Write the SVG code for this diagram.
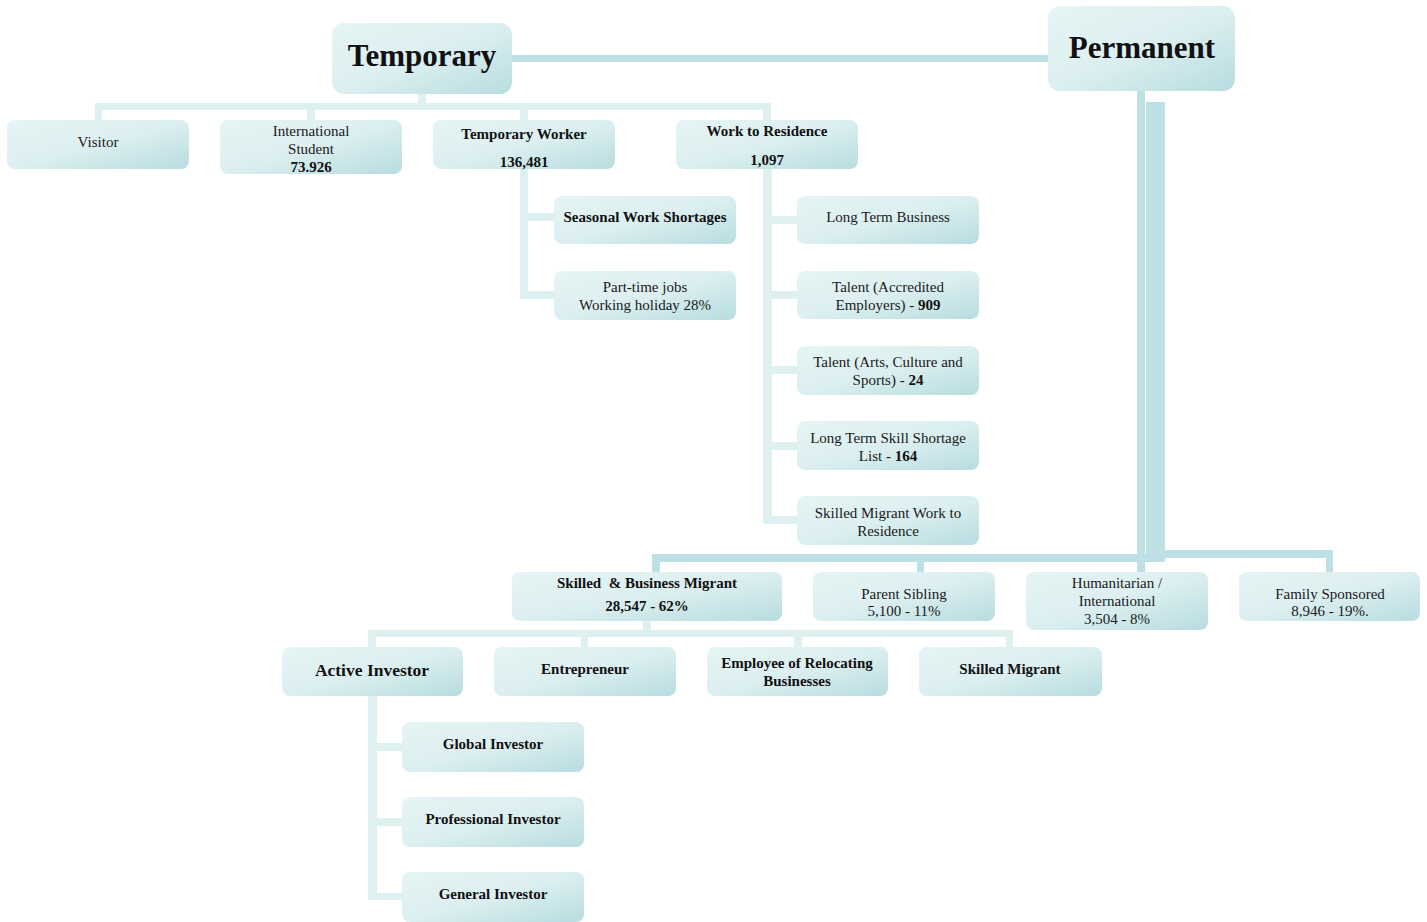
<svg xmlns="http://www.w3.org/2000/svg" width="1427" height="922" viewBox="0 0 1427 922">
<defs>
<linearGradient id="g" x1="0" y1="0" x2="1" y2="1">
<stop offset="0" stop-color="#e6f4f5"/>
<stop offset="0.5" stop-color="#dcefF0"/>
<stop offset="1" stop-color="#b7dce0"/>
</linearGradient>
<style>
.b{fill:url(#g);}
.t{font-family:"Liberation Serif","Times New Roman",serif;font-size:15px;fill:#1a1a1a;text-anchor:middle;}
.bd{font-weight:bold;fill:#111;}
.big{font-size:31px;font-weight:bold;fill:#111;}
.ai{font-size:17.5px;}
.cm{fill:#bce0e3;}
.cl{fill:#dff0f1;}
</style>
</defs>
<rect width="1427" height="922" fill="#ffffff"/>
<g id="connectors">
<rect class="cm" x="512" y="55" width="536" height="7"/>
<rect class="cl" x="418" y="94" width="8" height="10"/>
<rect class="cl" x="95" y="103" width="676" height="7"/>
<rect class="cl" x="95" y="103" width="7" height="17"/>
<rect class="cl" x="307" y="103" width="8" height="17"/>
<rect class="cl" x="520" y="103" width="8" height="17"/>
<rect class="cl" x="763" y="103" width="8" height="17"/>
<rect class="cl" x="520" y="169" width="8" height="129"/>
<rect class="cl" x="520" y="213" width="34" height="8"/>
<rect class="cl" x="520" y="291" width="34" height="8"/>
<rect class="cl" x="763" y="169" width="9" height="355"/>
<rect class="cl" x="763" y="216" width="34" height="8"/>
<rect class="cl" x="763" y="291" width="34" height="8"/>
<rect class="cl" x="763" y="366" width="34" height="8"/>
<rect class="cl" x="763" y="442" width="34" height="8"/>
<rect class="cl" x="763" y="516" width="34" height="8"/>
<rect class="cm" x="1137" y="91" width="8" height="481"/>
<rect class="cm" x="1146" y="102" width="19" height="458"/>
<rect class="cm" x="652" y="554" width="513" height="8"/>
<rect class="cm" x="652" y="554" width="8" height="18"/>
<rect class="cm" x="917" y="558" width="7" height="14"/>
<rect class="cm" x="1164" y="550" width="169" height="8"/>
<rect class="cm" x="1326" y="550" width="7" height="22"/>
<rect class="cl" x="643" y="621" width="8" height="12"/>
<rect class="cl" x="368" y="630" width="645" height="7"/>
<rect class="cl" x="368" y="630" width="8" height="17"/>
<rect class="cl" x="581" y="630" width="7" height="17"/>
<rect class="cl" x="794" y="630" width="8" height="17"/>
<rect class="cl" x="1006" y="630" width="7" height="17"/>
<rect class="cl" x="368" y="696" width="9" height="204"/>
<rect class="cl" x="368" y="743" width="34" height="8"/>
<rect class="cl" x="368" y="818" width="34" height="8"/>
<rect class="cl" x="368" y="893" width="34" height="7"/>
</g>
<g id="temporary"><rect class="b" x="332" y="23" width="180" height="71" rx="12"/><text class="t big" x="422" y="66">Temporary</text></g>
<g id="permanent"><rect class="b" x="1048" y="6" width="187" height="85" rx="12"/><text class="t big" x="1142" y="58">Permanent</text></g>
<g id="visitor"><rect class="b" x="7" y="120" width="182" height="49" rx="8"/><text class="t" x="98" y="147">Visitor</text></g>
<g id="intl-student"><rect class="b" x="220" y="120" width="182" height="54" rx="8"/><text class="t" x="311" y="136">International</text><text class="t" x="311" y="154">Student</text><text class="t bd" x="311" y="172">73.926</text></g>
<g id="temp-worker"><rect class="b" x="433" y="120" width="182" height="49" rx="8"/><text class="t bd" x="524" y="139">Temporary Worker</text><text class="t bd" x="524" y="167">136,481</text></g>
<g id="work-residence"><rect class="b" x="676" y="120" width="182" height="49" rx="8"/><text class="t bd" x="767" y="136">Work to Residence</text><text class="t bd" x="767" y="165">1,097</text></g>
<g id="seasonal"><rect class="b" x="554" y="196" width="182" height="48" rx="8"/><text class="t bd" x="645" y="222">Seasonal Work Shortages</text></g>
<g id="part-time"><rect class="b" x="554" y="271" width="182" height="49" rx="8"/><text class="t" x="645" y="292">Part-time jobs</text><text class="t" x="645" y="310">Working holiday 28%</text></g>
<g id="long-term-business"><rect class="b" x="797" y="196" width="182" height="48" rx="8"/><text class="t" x="888" y="222">Long Term Business</text></g>
<g id="talent-accredited"><rect class="b" x="797" y="271" width="182" height="48" rx="8"/><text class="t" x="888" y="292">Talent (Accredited</text><text class="t" x="888" y="310">Employers) - <tspan class="bd">909</tspan></text></g>
<g id="talent-arts"><rect class="b" x="797" y="346" width="182" height="49" rx="8"/><text class="t" x="888" y="367">Talent (Arts, Culture and</text><text class="t" x="888" y="385">Sports) - <tspan class="bd">24</tspan></text></g>
<g id="ltsl"><rect class="b" x="797" y="421" width="182" height="49" rx="8"/><text class="t" x="888" y="443">Long Term Skill Shortage</text><text class="t" x="888" y="461">List - <tspan class="bd">164</tspan></text></g>
<g id="smwr"><rect class="b" x="797" y="496" width="182" height="49" rx="8"/><text class="t" x="888" y="518">Skilled Migrant Work to</text><text class="t" x="888" y="536">Residence</text></g>
<g id="skilled-business"><rect class="b" x="512" y="572" width="270" height="49" rx="8"/><text class="t bd" x="647" y="588" style="white-space:pre">Skilled  &amp; Business Migrant</text><text class="t bd" x="647" y="611">28,547 - 62%</text></g>
<g id="parent-sibling"><rect class="b" x="813" y="572" width="182" height="49" rx="8"/><text class="t" x="904" y="599">Parent Sibling</text><text class="t" x="904" y="616">5,100 - 11%</text></g>
<g id="humanitarian"><rect class="b" x="1026" y="572" width="182" height="58" rx="8"/><text class="t" x="1117" y="588">Humanitarian /</text><text class="t" x="1117" y="606">International</text><text class="t" x="1117" y="624">3,504 - 8%</text></g>
<g id="family"><rect class="b" x="1239" y="572" width="181" height="49" rx="8"/><text class="t" x="1330" y="599">Family Sponsored</text><text class="t" x="1330" y="616">8,946 - 19%.</text></g>
<g id="active-investor"><rect class="b" x="282" y="647" width="181" height="49" rx="8"/><text class="t bd ai" x="372" y="676">Active Investor</text></g>
<g id="entrepreneur"><rect class="b" x="494" y="647" width="182" height="49" rx="8"/><text class="t bd" x="585" y="674">Entrepreneur</text></g>
<g id="employee-relocating"><rect class="b" x="707" y="647" width="181" height="49" rx="8"/><text class="t bd" x="797" y="668">Employee of Relocating</text><text class="t bd" x="797" y="686">Businesses</text></g>
<g id="skilled-migrant"><rect class="b" x="919" y="647" width="183" height="49" rx="8"/><text class="t bd" x="1010" y="674">Skilled Migrant</text></g>
<g id="global-investor"><rect class="b" x="402" y="722" width="182" height="50" rx="8"/><text class="t bd" x="493" y="749">Global Investor</text></g>
<g id="professional-investor"><rect class="b" x="402" y="797" width="182" height="50" rx="8"/><text class="t bd" x="493" y="824">Professional Investor</text></g>
<g id="general-investor"><rect class="b" x="402" y="872" width="182" height="50" rx="8"/><text class="t bd" x="493" y="899">General Investor</text></g>
</svg>
